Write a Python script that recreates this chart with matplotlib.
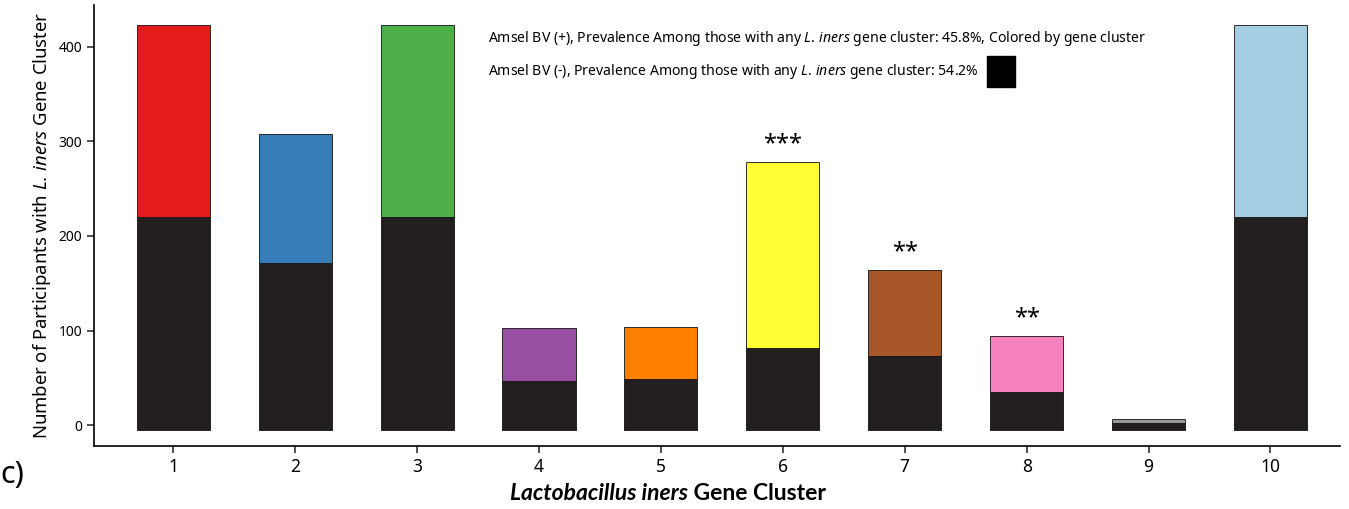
import matplotlib
matplotlib.use("Agg")
from matplotlib import pyplot as plt
from matplotlib.patches import Rectangle
from matplotlib.offsetbox import TextArea, HPacker, AnchoredOffsetbox

plt.rcParams['font.family'] = ['Noto Sans', 'DejaVu Sans']
plt.rcParams['mathtext.fontset'] = 'custom'
plt.rcParams['mathtext.rm'] = 'Noto Sans'
plt.rcParams['mathtext.it'] = 'Noto Sans:italic'

clusters = [1, 2, 3, 4, 5, 6, 7, 8, 9, 10]
totals = [423, 308, 423, 103, 104, 278, 164, 94, 7, 423]      # BV(+) and BV(-) together
negatives = [220, 171, 220, 47, 49, 82, 73, 35, 2, 220]       # Amsel BV (-)
colors = ['#E41A1C', '#377EB8', '#4DAF4A', '#984EA3', '#FF7F00',
          '#FFFF33', '#A65628', '#F781BF', '#999999', '#A6CEE3']
stars = {6: '***', 7: '**', 8: '**'}
base = -5  # bars drawn slightly below zero, as in the original
black = '#231F20'

fig = plt.figure(figsize=(13.49, 5.09), dpi=100)
ax = fig.add_axes([0.0697, 0.1238, 0.9236, 0.866])

pos = [t - n for t, n in zip(totals, negatives)]
ax.bar(clusters, [n - base for n in negatives], bottom=base, width=0.6,
       color=black, edgecolor='#111111', linewidth=0.6)
ax.bar(clusters, pos, bottom=negatives, width=0.6, color=colors,
       edgecolor='#111111', linewidth=0.6)

for c, s in stars.items():
    ax.text(c, totals[c - 1] + 6, s, ha='center', va='bottom', fontsize=17)

ax.set_xlim(0.35, 10.57)
ax.set_ylim(-22, 444)
ax.set_xticks(clusters)
ax.set_yticks([0, 100, 200, 300, 400])
ax.tick_params(axis='x', labelsize=12.5, length=5, width=1.2, color='#333333')
ax.tick_params(axis='y', labelsize=10, length=5, width=1.2, color='#333333')
for s in ['top', 'right']:
    ax.spines[s].set_visible(False)
for s in ['left', 'bottom']:
    ax.spines[s].set_linewidth(1.2)

ax.set_ylabel(r'Number of Participants with $\it{L.\,iners}$ Gene Cluster', fontsize=13.3)

# bold italic genus name + bold rest, packed side by side
lab_font = ['Lato', 'DejaVu Sans']
xlab = HPacker(children=[
    TextArea('Lactobacillus iners', textprops=dict(family=lab_font, fontsize=16.5,
                                                   fontweight='bold', style='italic')),
    TextArea(' Gene Cluster', textprops=dict(family=lab_font, fontsize=16.5, fontweight='bold')),
], align='baseline', pad=0, sep=0)
ab = AnchoredOffsetbox(loc='center', child=xlab, frameon=False, pad=0,
                       bbox_to_anchor=(0.461, -0.107), bbox_transform=ax.transAxes)
ax.add_artist(ab)

ax.text(0.316, 0.925,
        r'Amsel BV (+), Prevalence Among those with any $\it{L.\,iners}$ gene cluster: 45.8%, Colored by gene cluster',
        transform=ax.transAxes, fontsize=10.1, va='center')
ax.text(0.316, 0.85,
        r'Amsel BV (-), Prevalence Among those with any $\it{L.\,iners}$ gene cluster: 54.2%',
        transform=ax.transAxes, fontsize=10.1, va='center')
ax.add_patch(Rectangle((0.717, 0.815), 0.022, 0.07, transform=ax.transAxes,
                       color='black', clip_on=False))

fig.text(0.0, 0.067, 'c)', fontsize=22, va='center')

fig.savefig('out.png', dpi=100)
